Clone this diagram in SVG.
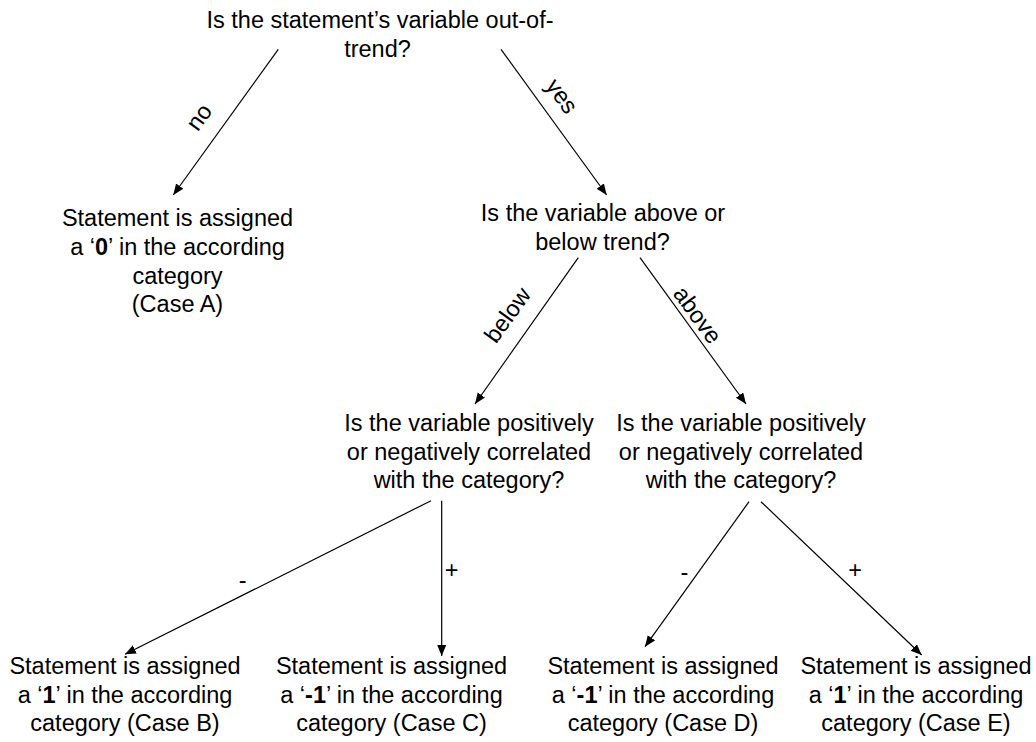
<svg xmlns="http://www.w3.org/2000/svg" width="1036" height="742" viewBox="0 0 1036 742">
<style>
text{font-family:"Liberation Sans",Arial,sans-serif;font-size:23.5px;fill:#000;text-anchor:middle}
.b{font-weight:bold}
.c line{stroke:#000;stroke-width:1.2;marker-end:url(#ah)}
</style>
<defs>
<marker id="ah" markerUnits="userSpaceOnUse" markerWidth="12" markerHeight="10" refX="11" refY="4.5" orient="auto">
<path d="M0,0 L11,4.5 L0,9 z" fill="#000"/>
</marker>
</defs>
<rect width="1036" height="742" fill="#fff"/>
<g id="q1">
<text x="380" y="28">Is the statement’s variable out-of-</text>
<text x="377.5" y="56.7">trend?</text>
</g>
<g id="caseA">
<text x="177.5" y="226">Statement is assigned</text>
<text x="177.5" y="255">a ‘<tspan class="b">0</tspan>’ in the according</text>
<text x="177.5" y="283.5">category</text>
<text x="177.5" y="312">(Case A)</text>
</g>
<g id="q2">
<text x="603" y="221">Is the variable above or</text>
<text x="602.5" y="249.5">below trend?</text>
</g>
<g id="q3left">
<text x="469" y="431">Is the variable positively</text>
<text x="469" y="459.5">or negatively correlated</text>
<text x="469" y="488">with the category?</text>
</g>
<g id="q3right">
<text x="741" y="431">Is the variable positively</text>
<text x="741" y="459.5">or negatively correlated</text>
<text x="741" y="488">with the category?</text>
</g>
<g id="caseB">
<text x="125" y="674">Statement is assigned</text>
<text x="125" y="703">a ‘<tspan class="b">1</tspan>’ in the according</text>
<text x="125" y="731">category (Case B)</text>
</g>
<g id="caseC">
<text x="391.5" y="674">Statement is assigned</text>
<text x="391.5" y="703">a ‘<tspan class="b">-1</tspan>’ in the according</text>
<text x="391.5" y="731">category (Case C)</text>
</g>
<g id="caseD">
<text x="663" y="674">Statement is assigned</text>
<text x="663" y="703">a ‘<tspan class="b">-1</tspan>’ in the according</text>
<text x="663" y="731">category (Case D)</text>
</g>
<g id="caseE">
<text x="916" y="674">Statement is assigned</text>
<text x="916" y="703">a ‘<tspan class="b">1</tspan>’ in the according</text>
<text x="916" y="731">category (Case E)</text>
</g>
<g id="connectors" class="c">
<line x1="278.3" y1="49.3" x2="173.3" y2="195"/>
<line x1="501" y1="49.3" x2="606.7" y2="195"/>
<line x1="578.3" y1="257.7" x2="475" y2="404"/>
<line x1="640" y1="257.7" x2="746" y2="404"/>
<line x1="431" y1="500.7" x2="125" y2="654.3"/>
<line x1="441.7" y1="500.7" x2="441.7" y2="656"/>
<line x1="749" y1="501.7" x2="645" y2="646.7"/>
<line x1="761" y1="501.7" x2="921.7" y2="655"/>
</g>
<g id="edge-labels">
<text transform="translate(199,117) rotate(-54)" dy="8">no</text>
<text transform="translate(562,96) rotate(54)" dy="8">yes</text>
<text transform="translate(507.5,315) rotate(-54)" dy="8">below</text>
<text transform="translate(697.5,315) rotate(54)" dy="8">above</text>
<text x="242.7" y="588">-</text>
<text x="451.7" y="578">+</text>
<text x="684.3" y="580">-</text>
<text x="855" y="578">+</text>
</g>
</svg>
